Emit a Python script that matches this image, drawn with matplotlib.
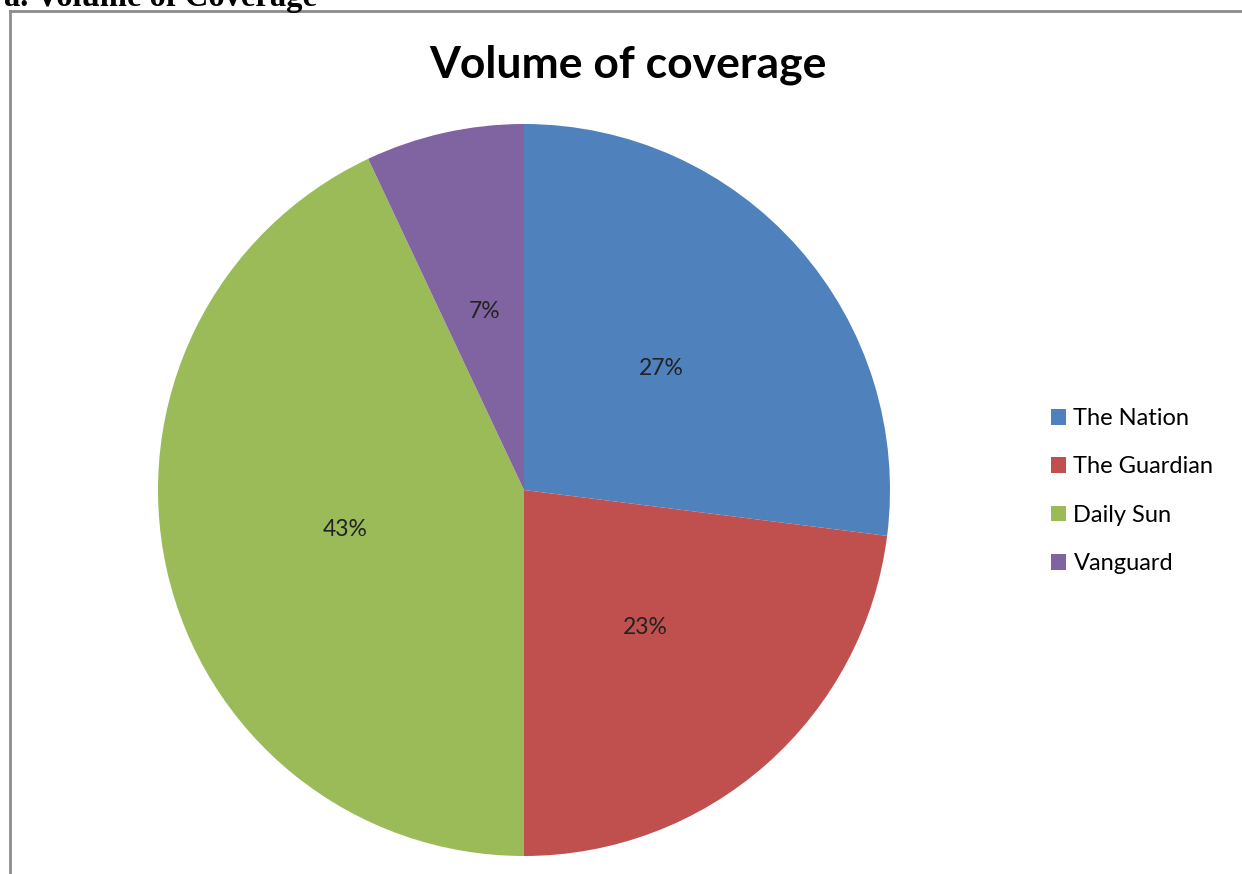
import matplotlib.pyplot as plt
from matplotlib.lines import Line2D

# data
outlets = ["The Nation", "The Guardian", "Daily Sun", "Vanguard"]
shares = [27, 23, 43, 7]
colors = ["#4F81BD", "#C0504D", "#9BBB59", "#8064A2"]

W, H = 1242, 874
fig = plt.figure(figsize=(W / 100, H / 100), dpi=100)

# caption cut off at top of the page
fig.text(4 / W, 1 - 6 / H, "a. Volume of Coverage", family="Liberation Serif",
         weight="bold", fontsize=23.5, va="baseline", ha="left")

# frame of the chart area (left and top edges visible)
fig.add_artist(Line2D([9.5 / W, 9.5 / W], [0, 1 - 11 / H], color="#8c8c8c", lw=2,
                      transform=fig.transFigure))
fig.add_artist(Line2D([9.5 / W, 1], [1 - 11 / H, 1 - 11 / H], color="#8c8c8c", lw=2,
                      transform=fig.transFigure))

fig.text(628 / W, 1 - 65 / H, "Volume of coverage", family="Lato", weight="bold",
         fontsize=32, ha="center", va="center")

cx, cy, r = 524, 490, 366
ax = fig.add_axes([(cx - r) / W, (H - cy - r) / H, 2 * r / W, 2 * r / H])
wedges, texts, autotexts = ax.pie(shares, colors=colors, startangle=90, counterclock=False,
                                  autopct="%d%%", pctdistance=0.5, radius=1,
                                  wedgeprops=dict(linewidth=0),
                                  textprops=dict(family="Lato", fontsize=16.5, color="#222222"))
ax.set_xlim(-1, 1)
ax.set_ylim(-1, 1)
ax.set_aspect("equal")
ax.axis("off")

fig.legend(wedges, outlets, loc="upper left", bbox_to_anchor=(1051 / W, 1 - 408 / H),
           frameon=False, prop=dict(family="Lato", size=17), handlelength=0.65,
           handleheight=0.65, handletextpad=0.3, labelspacing=1.16, borderaxespad=0,
           borderpad=0)

fig.savefig("out.png", dpi=100, facecolor="white")
